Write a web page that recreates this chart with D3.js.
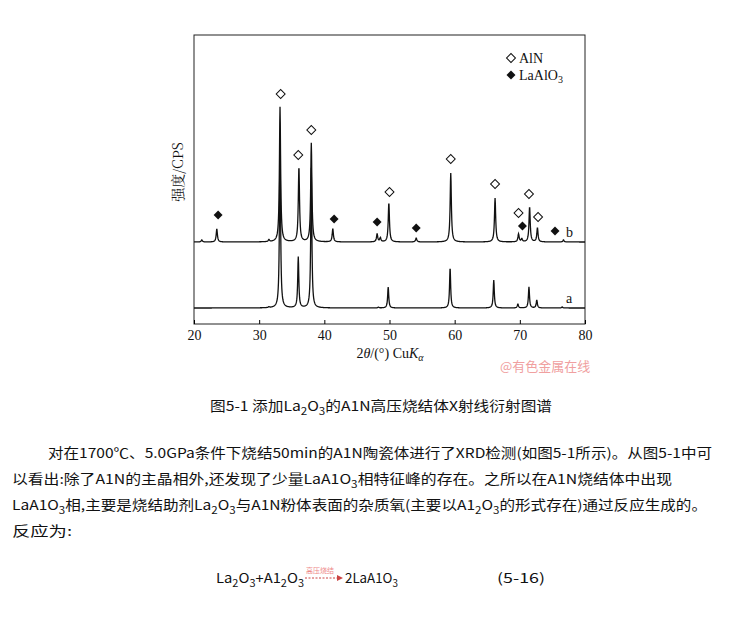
<!DOCTYPE html><html><head><meta charset="utf-8">
<script src="https://cdn.jsdelivr.net/npm/d3@7"></script>
<style>body{margin:0;background:#fff} .sr{font-family:'Liberation Serif','DejaVu Serif',serif !important}</style></head><body>
<svg id="c" width="730" height="629"></svg>
<script>
const xTicks=[20,30,40,50,60,70,80];
const baseA=16, baseB=82;
const peaksA=[[31.5,0.8],[33.2,170],[36.0,51],[38.0,140],[48.3,0.8],[49.8,21],[59.3,40],[66.0,28],[69.7,4],[71.4,21],[72.6,8],[76.5,1]];
const peaksB=[[21.2,2],[23.5,13],[31.5,2],[33.2,135],[36.1,75],[38.0,99],[41.3,13],[48.1,8],[48.6,4],[49.9,39],[54.1,4],[59.4,69],[66.2,44],[69.8,8],[70.3,3],[71.5,35],[72.7,14],[76.7,2]];
const aln=[[33.3,94],[36.0,155],[38.0,130],[50.0,192],[59.4,159],[66.2,184],[69.8,213],[71.4,194],[72.8,217]];
const laalo=[[23.7,215],[41.5,219],[48.1,222],[54.1,228],[70.4,226],[75.4,231]];
const svg=d3.select("#c");
const x=d3.scaleLinear().domain([20,80]).range([194,585]);
const y=d3.scaleLinear().domain([0,289]).range([324,35]);
const ser="'Liberation Serif','DejaVu Serif',serif";
svg.append("rect").attr("x",194).attr("y",35).attr("width",391).attr("height",289).attr("fill","none").attr("stroke","#222").attr("stroke-width",1);
function curve(base,peaks,w){const pts=[];for(let t=20;t<=80.001;t+=0.04){let v=base;for(const[p,h]of peaks){const d=(t-p)/w;v+=h/(1+d*d*4);}pts.push([t,v]);}return pts;}
const line=d3.line().x(d=>x(d[0])).y(d=>y(d[1]));
svg.append("path").attr("d",line(curve(baseA,peaksA,0.2))).attr("fill","none").attr("stroke","#111").attr("stroke-width",1.3);
svg.append("path").attr("d",line(curve(baseB,peaksB,0.22))).attr("fill","none").attr("stroke","#111").attr("stroke-width",1.3);
const ax=svg.append("g").attr("transform","translate(0,324)").call(d3.axisBottom(x).tickValues(xTicks).tickSize(-4).tickPadding(6));
ax.attr("font-family",null).attr("font-size",null);
ax.select(".domain").remove();
ax.selectAll("text").attr("class","sr").style("font-size","14px").attr("fill","#111");
const dia=d3.symbol().type(d3.symbolSquare).size(40);
const tr=(a,b)=>`translate(${a},${b}) rotate(45)`;
svg.selectAll(".o").data(aln).join("path").attr("d",dia).attr("transform",d=>tr(x(d[0]),d[1])).attr("fill","#fff").attr("stroke","#111").attr("stroke-width",1);
svg.selectAll(".f").data(laalo).join("path").attr("d",dia).attr("transform",d=>tr(x(d[0]),d[1])).attr("fill","#111");
svg.append("path").attr("d",dia).attr("transform",tr(511,58)).attr("fill","#fff").attr("stroke","#111");
svg.append("path").attr("d",dia).attr("transform",tr(511,75)).attr("fill","#111");
const t=(s,xx,yy,o={})=>svg.append("text").attr("x",xx).attr("y",yy).attr("font-family",o.f||ser).attr("font-size",o.s||14).attr("fill",o.c||"#111").attr("text-anchor",o.a||"start").text(s);
t("AlN",519,63);
const lg=t("LaAlO",519,80);lg.append("tspan").attr("font-size",10).attr("dy",3).text("3");
t("b",566,237);t("a",566,303);
svg.append("text").attr("transform","translate(183,172) rotate(-90)").attr("text-anchor","middle").attr("font-family","'Noto Serif CJK SC','Noto Sans CJK SC',serif").attr("font-size",14).attr("fill","#111").text("强度/CPS");
const xl=svg.append("text").attr("class","sr").attr("x",390).attr("y",358).attr("text-anchor","middle").attr("font-size",14).attr("fill","#111");
xl.append("tspan").text("2");xl.append("tspan").attr("font-style","italic").text("θ");xl.append("tspan").text("/(°) Cu");xl.append("tspan").attr("font-style","italic").text("K");xl.append("tspan").attr("font-style","italic").attr("font-size",10).attr("dy",3).text("α");
t("@有色金属在线",500,371,{f:"'Noto Sans CJK SC'",s:13,c:"#f0a0a0"});
const cj="'Noto Sans CJK SC','DejaVu Sans Mono'";
function rich(parts,xx,yy,len,s){const e=svg.append("text").attr("x",xx).attr("y",yy).attr("font-family",cj).attr("font-size",s||13.5).attr("fill","#111");
 if(len)e.attr("textLength",len).attr("lengthAdjust","spacingAndGlyphs");
 let sub=false;
 for(const p of parts){if(typeof p==="string"){e.append("tspan").attr("dy",sub?-4:0).text(p);sub=false;}else{e.append("tspan").attr("dy",sub?0:4).attr("font-size",10).text(p[0]);sub=true;}}return e;}
rich(["图5-1 添加La",["2"],"O",["3"],"的A1N高压烧结体X射线衍射图谱"],210,411,342);
rich(["对在1700℃、5.0GPa条件下烧结50min的A1N陶瓷体进行了XRD检测(如图5-1所示)。从图5-1中可"],48,458,664);
rich(["以看出:除了A1N的主晶相外,还发现了少量LaA1O",["3"],"相特征峰的存在。之所以在A1N烧结体中出现"],12,484,660);
rich(["LaA1O",["3"],"相,主要是烧结助剂La",["2"],"O",["3"],"与A1N粉体表面的杂质氧(主要以A1",["2"],"O",["3"],"的形式存在)通过反应生成的。"],12,510,695);
rich(["反应为:"],12,536,60);
rich(["La",["2"],"O",["3"],"+A1",["2"],"O",["3"]],216,583,88);
t("高压烧结",306,573,{f:cj,s:7,c:"#e88"});
svg.append("line").attr("x1",305).attr("x2",340).attr("y1",578).attr("y2",578).attr("stroke","#c44").attr("stroke-dasharray","2,1.5");
svg.append("path").attr("d","M337,575L343,578L337,581Z").attr("fill","#c44");
rich(["2LaA1O",["3"]],345,583,53);
rich(["(5-16)"],497,583,48);
</script></body></html>
